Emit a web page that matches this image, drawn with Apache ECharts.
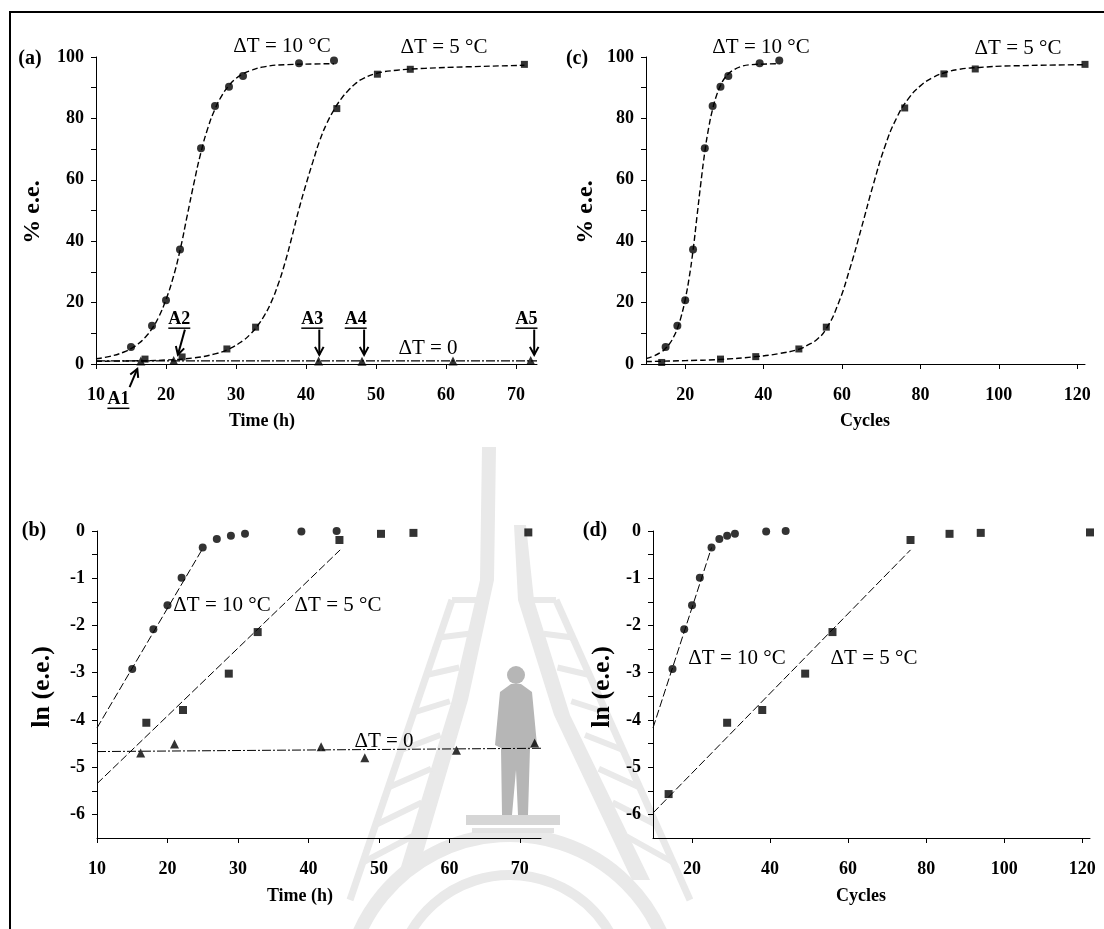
<!DOCTYPE html>
<html><head><meta charset="utf-8">
<script src="https://cdn.jsdelivr.net/npm/echarts@6/dist/echarts.min.js"></script>
<style>html,body{margin:0;padding:0;background:#fff}#c{width:1104px;height:929px}</style>
</head><body><div id="c"></div>
<script>
// ---------- tick labels ----------
const timeTicks = [10, 20, 30, 40, 50, 60, 70];
const cycleTicks = [20, 40, 60, 80, 100, 120];
const eeTicks = [0, 10, 20, 30, 40, 50, 60, 70, 80, 90, 100];
const eeLabels = [0, 20, 40, 60, 80, 100];
const lnTicks = [0, -0.5, -1, -1.5, -2, -2.5, -3, -3.5, -4, -4.5, -5, -5.5, -6];
const lnLabels = [0, -1, -2, -3, -4, -5, -6];

// ---------- (a) % e.e. vs time ----------
const a10Time = [15, 18, 20, 22, 25, 27, 29, 31, 39, 44];
const a10EE   = [5.5, 12.5, 20.8, 37.3, 70.3, 84.0, 90.3, 93.8, 98.0, 98.9];
const a5Time  = [17, 22.3, 28.7, 32.8, 44.4, 50.2, 54.9, 71.2];
const a5EE    = [1.6, 2.3, 4.9, 12.0, 83.2, 94.4, 96.0, 97.6];
const a0Time  = [16.4, 21.1, 41.8, 48.0, 61.0, 72.1];
const a0EE    = [1.0, 1.1, 1.0, 0.9, 1.0, 1.1];
// fitted curves
const a10FitT = [10, 12, 14, 15, 16, 17, 18, 19, 20, 21, 22, 23, 24, 25, 26, 27, 28, 29, 30, 31, 32, 34, 37, 44];
const a10FitV = [1.7, 2.5, 3.9, 5.0, 6.5, 8.6, 11.5, 15.5, 21, 28, 37, 48, 59, 69, 77, 83, 87.5, 90.7, 93, 94.5, 95.5, 96.8, 97.5, 97.8];
const a5FitT  = [10, 15, 20, 24, 27, 29, 31, 32, 33, 34, 35, 36, 37, 38, 39, 40, 41, 42, 43, 44, 45, 46, 47, 48, 50, 53, 57, 63, 71.2];
const a5FitV  = [0.9, 1.0, 1.3, 2.0, 3.3, 4.9, 7.6, 9.6, 12.2, 15.6, 20.0, 25.8, 33, 41.5, 50.5, 58.5, 66, 73, 78.5, 82.8, 86.3, 89, 91.2, 92.8, 94.6, 95.7, 96.3, 96.8, 97.3];
const a0FitT  = [10, 73];
const a0FitV  = [1.0, 1.0];

// ---------- (c) % e.e. vs cycles ----------
const c10Cyc = [15, 18, 20, 22, 25, 27, 29, 31, 39, 44];
const c10EE  = [5.5, 12.5, 20.8, 37.3, 70.3, 84.0, 90.3, 93.8, 98.0, 98.9];
const c5Cyc  = [14, 29, 38, 49, 56, 76, 86, 94, 122];
const c5EE   = [0.5, 1.6, 2.4, 4.9, 12.0, 83.4, 94.5, 96.1, 97.6];
const c10FitC = [10, 12, 14, 15, 16, 17, 18, 19, 20, 21, 22, 23, 24, 25, 26, 27, 28, 29, 30, 31, 32, 34, 37, 44];
const c10FitV = [1.8, 2.6, 4.0, 5.1, 6.6, 8.7, 11.6, 15.6, 21, 28, 37, 48, 59, 69, 77, 83, 87.5, 90.7, 93, 94.5, 95.5, 96.8, 97.5, 97.8];
const c5FitC  = [10, 20, 29, 38, 44, 49, 51, 53.6, 56, 59, 62, 65, 68, 71, 74, 77, 80, 83, 86, 90, 95, 103, 122];
const c5FitV  = [0.8, 1.1, 1.5, 2.4, 3.4, 4.8, 6.0, 8.0, 11.5, 19.5, 31, 44.5, 58.5, 71, 80.3, 86.5, 90.6, 93.2, 94.8, 96.0, 96.6, 97.1, 97.5];

// ---------- (b) ln(e.e.) vs time ----------
const b10Time = [15, 18, 20, 22, 25, 27, 29, 31, 39, 44];
const b10Ln   = [-2.92, -2.08, -1.57, -0.99, -0.35, -0.17, -0.10, -0.06, -0.01, 0.0];
const b5Time  = [17, 22.2, 28.7, 32.8, 44.4, 50.3, 54.9, 71.2];
const b5Ln    = [-4.06, -3.79, -3.02, -2.14, -0.19, -0.06, -0.04, -0.03];
const b0Time  = [16.2, 21.0, 41.8, 48.0, 61.0, 72.1];
const b0Ln    = [-4.70, -4.51, -4.57, -4.80, -4.64, -4.49];
const b10FitT = [10, 25];   const b10FitL = [-4.17, -0.37];
const b5FitT  = [10, 44.5]; const b5FitL  = [-5.35, -0.40];
const b0FitT  = [10, 73];   const b0FitL  = [-4.67, -4.60];

// ---------- (d) ln(e.e.) vs cycles ----------
const d10Cyc = [15, 18, 20, 22, 25, 27, 29, 31, 39, 44];
const d10Ln  = [-2.92, -2.08, -1.57, -0.99, -0.35, -0.17, -0.10, -0.06, -0.01, 0.0];
const d5Cyc  = [14, 29, 38, 49, 56, 76, 86, 94, 122];
const d5Ln   = [-5.57, -4.06, -3.79, -3.02, -2.14, -0.19, -0.06, -0.04, -0.03];
const d10FitC = [10, 25]; const d10FitL = [-4.17, -0.35];
const d5FitC  = [10, 76]; const d5FitL  = [-5.97, -0.40];

// ---------- annotations (a) ----------
const arrowLabels = ['A1', 'A2', 'A3', 'A4', 'A5'];
const arrowFrom = [[14.8, -7.5], [22.7, 11.2], [41.9, 11.2], [48.3, 11.2], [72.6, 11.2]];
const arrowTo   = [[15.9, -1.6], [21.7, 3.0], [41.9, 3.0], [48.3, 3.0], [72.6, 3.0]];
const arrowText = [[13.2, -11.5], [21.9, 14.6], [40.9, 14.6], [47.1, 14.6], [71.5, 14.6]];

const FONT = '"Liberation Serif", "Times New Roman", serif';
const zip = (a, b) => a.map((v, i) => [v, b[i]]);

function xAxis(gi, min, max, ticks) {
  return {
    type: 'value', gridIndex: gi, min: min, max: max,
    axisLine: { show: true, onZero: false, lineStyle: { color: '#000', width: 1 } },
    axisTick: { show: true, inside: false, length: 5, customValues: ticks, lineStyle: { color: '#000', width: 1 } },
    axisLabel: { customValues: ticks, margin: 22, color: '#000', fontFamily: FONT, fontWeight: 'bold', fontSize: 18 },
    splitLine: { show: false }, z: 8
  };
}
function yAxis(gi, min, max, ticks, labels) {
  return {
    type: 'value', gridIndex: gi, min: min, max: max,
    axisLine: { show: true, onZero: false, lineStyle: { color: '#000', width: 1 } },
    axisTick: { show: true, inside: false, length: 5, customValues: ticks, lineStyle: { color: '#000', width: 1 } },
    axisLabel: { customValues: labels, margin: 12, color: '#000', fontFamily: FONT, fontWeight: 'bold', fontSize: 18 },
    splitLine: { show: false }, z: 8
  };
}
function scatter(gi, sym, size, data) {
  return { type: 'scatter', xAxisIndex: gi, yAxisIndex: gi, symbol: sym, symbolSize: size, clip: false,
    itemStyle: { color: '#000' }, data: data, z: 6 };
}
function line(gi, data, dash, width, smooth) {
  return { type: 'line', xAxisIndex: gi, yAxisIndex: gi, data: data, showSymbol: false, symbol: 'none',
    smooth: smooth ? 0.5 : false, clip: false,
    lineStyle: { color: '#000', width: width, type: dash }, z: 5 };
}

const LONG = [6, 3];
const FITD = [8, 3];
const DASHDOT = [9, 2, 2, 2];

const option = {
  animation: false,
  backgroundColor: '#fff',
  grid: [
    { left: 96, top: 57, width: 441, height: 307 },
    { left: 646, top: 57, width: 439, height: 307 },
    { left: 97, top: 531, width: 444, height: 307 },
    { left: 653, top: 531, width: 437, height: 307 }
  ],
  xAxis: [
    xAxis(0, 10, 73, timeTicks),
    xAxis(1, 10, 122, cycleTicks),
    xAxis(2, 10, 73, timeTicks),
    xAxis(3, 10, 122, cycleTicks)
  ],
  yAxis: [
    yAxis(0, 0, 100, eeTicks, eeLabels),
    yAxis(1, 0, 100, eeTicks, eeLabels),
    yAxis(2, -6.5, 0, lnTicks, lnLabels),
    yAxis(3, -6.5, 0, lnTicks, lnLabels)
  ],
  series: [
    line(0, zip(a10FitT, a10FitV), LONG, 1.4, true),
    line(0, zip(a5FitT, a5FitV), LONG, 1.4, true),
    line(0, zip(a0FitT, a0FitV), DASHDOT, 1.2, false),
    scatter(0, 'circle', 8, zip(a10Time, a10EE)),
    scatter(0, 'rect', 7, zip(a5Time, a5EE)),
    scatter(0, 'triangle', 9, zip(a0Time, a0EE)),

    line(1, zip(c10FitC, c10FitV), LONG, 1.4, true),
    line(1, zip(c5FitC, c5FitV), LONG, 1.4, true),
    scatter(1, 'circle', 8, zip(c10Cyc, c10EE)),
    scatter(1, 'rect', 7, zip(c5Cyc, c5EE)),

    line(2, zip(b10FitT, b10FitL), FITD, 1, false),
    line(2, zip(b5FitT, b5FitL), FITD, 1, false),
    line(2, zip(b0FitT, b0FitL), DASHDOT, 1, false),
    scatter(2, 'circle', 8, zip(b10Time, b10Ln)),
    scatter(2, 'rect', 8, zip(b5Time, b5Ln)),
    scatter(2, 'triangle', 9, zip(b0Time, b0Ln)),

    line(3, zip(d10FitC, d10FitL), FITD, 1, false),
    line(3, zip(d5FitC, d5FitL), FITD, 1, false),
    scatter(3, 'circle', 8, zip(d10Cyc, d10Ln)),
    scatter(3, 'rect', 8, zip(d5Cyc, d5Ln))
  ]
};

const chart = echarts.init(document.getElementById('c'));
chart.setOption(option);

function txt(s, x, y, opts) {
  opts = opts || {};
  return {
    type: 'text', x: x, y: y, rotation: opts.rot || 0, z: 10,
    style: { text: s, x: 0, y: 0, align: opts.align || 'center', verticalAlign: 'middle',
      font: (opts.bold ? 'bold ' : '') + (opts.size || 21) + 'px ' + FONT, fill: '#000' }
  };
}
const g = [];
// ---- faint background watermark (emblem) ----
const WM = '#e9e9e9', WM2 = '#b6b6b6';
const wm = (el) => { el.z = -5; el.silent = true; g.push(el); };
wm({ type: 'polygon', shape: { points: [[482, 447], [496, 447], [494, 580], [468, 700], [418, 870], [400, 870], [452, 700], [480, 580]] }, style: { fill: WM } });
wm({ type: 'polygon', shape: { points: [[514, 525], [526, 525], [534, 600], [570, 715], [650, 880], [632, 880], [554, 715], [518, 600]] }, style: { fill: WM } });
wm({ type: 'line', shape: { x1: 452, y1: 600, x2: 350, y2: 900 }, style: { stroke: WM, lineWidth: 7 } });
wm({ type: 'line', shape: { x1: 556, y1: 600, x2: 690, y2: 900 }, style: { stroke: WM, lineWidth: 7 } });
for (let k = 0; k < 8; k++) {
  const f = k / 8;
  wm({ type: 'line', shape: { x1: 452 - 102 * f, y1: 600 + 300 * f, x2: 478 - 75 * f, y2: 600 + 270 * f }, style: { stroke: WM, lineWidth: 6 } });
  wm({ type: 'line', shape: { x1: 556 + 134 * f, y1: 600 + 300 * f, x2: 530 + 110 * f, y2: 600 + 270 * f }, style: { stroke: WM, lineWidth: 6 } });
}
wm({ type: 'arc', shape: { cx: 510, cy: 1000, r: 165, startAngle: Math.PI * 1.1, endAngle: Math.PI * 1.9 }, style: { stroke: WM, lineWidth: 14, fill: null } });
wm({ type: 'arc', shape: { cx: 510, cy: 990, r: 115, startAngle: Math.PI * 1.15, endAngle: Math.PI * 1.85 }, style: { stroke: WM, lineWidth: 10, fill: null } });
// statue silhouette
wm({ type: 'circle', shape: { cx: 516, cy: 675, r: 9 }, style: { fill: WM2 } });
wm({ type: 'polygon', shape: { points: [[511, 684], [521, 684], [532, 692], [537, 745], [530, 748], [528, 815], [518, 815], [516, 770], [512, 815], [502, 815], [501, 748], [495, 745], [500, 692]] }, style: { fill: WM2 } });
wm({ type: 'rect', shape: { x: 466, y: 815, width: 94, height: 10 }, style: { fill: '#d6d6d6' } });
wm({ type: 'rect', shape: { x: 472, y: 828, width: 82, height: 5 }, style: { fill: '#e2e2e2' } });

// outer frame
g.push({ type: 'rect', shape: { x: 10, y: 12, width: 1200, height: 1000 }, style: { fill: 'none', stroke: '#000', lineWidth: 2 }, z: 1 });
// panel letters
g.push(txt('(a)', 30, 59, { bold: true, size: 20 }));
g.push(txt('(c)', 577, 59, { bold: true, size: 20 }));
g.push(txt('(b)', 34, 531, { bold: true, size: 20 }));
g.push(txt('(d)', 595, 531, { bold: true, size: 20 }));
// axis titles
g.push(txt('% e.e.', 33, 212, { bold: true, size: 24, rot: Math.PI / 2 }));
g.push(txt('% e.e.', 586, 212, { bold: true, size: 24, rot: Math.PI / 2 }));
g.push(txt('ln (e.e.)', 42, 687, { bold: true, size: 26, rot: Math.PI / 2 }));
g.push(txt('ln (e.e.)', 602, 687, { bold: true, size: 26, rot: Math.PI / 2 }));
g.push(txt('Time (h)', 262, 421, { bold: true, size: 18 }));
g.push(txt('Cycles', 865, 421, { bold: true, size: 18 }));
g.push(txt('Time (h)', 300, 896, { bold: true, size: 18 }));
g.push(txt('Cycles', 861, 896, { bold: true, size: 18 }));
// series labels
g.push(txt('\u0394T = 10 \u00B0C', 282, 46));
g.push(txt('\u0394T = 5 \u00B0C', 444, 47));
g.push(txt('\u0394T = 0', 428, 348));
g.push(txt('\u0394T = 10 \u00B0C', 761, 47));
g.push(txt('\u0394T = 5 \u00B0C', 1018, 48));
g.push(txt('\u0394T = 10 \u00B0C', 222, 605));
g.push(txt('\u0394T = 5 \u00B0C', 338, 605));
g.push(txt('\u0394T = 0', 384, 741));
g.push(txt('\u0394T = 10 \u00B0C', 737, 658));
g.push(txt('\u0394T = 5 \u00B0C', 874, 658));

// arrows with labels (panel a)
arrowLabels.forEach((lab, i) => {
  const p0 = chart.convertToPixel({ gridIndex: 0 }, arrowFrom[i]);
  const p1 = chart.convertToPixel({ gridIndex: 0 }, arrowTo[i]);
  const pt = chart.convertToPixel({ gridIndex: 0 }, arrowText[i]);
  const ang = Math.atan2(p1[1] - p0[1], p1[0] - p0[0]);
  const hl = 9, ha = 0.5;
  const h1 = [p1[0] - hl * Math.cos(ang - ha), p1[1] - hl * Math.sin(ang - ha)];
  const h2 = [p1[0] - hl * Math.cos(ang + ha), p1[1] - hl * Math.sin(ang + ha)];
  g.push({ type: 'polyline', shape: { points: [p0, p1] }, style: { stroke: '#000', lineWidth: 2, fill: null }, z: 10 });
  g.push({ type: 'polyline', shape: { points: [h1, p1, h2] }, style: { stroke: '#000', lineWidth: 2, fill: null }, z: 10 });
  g.push(txt(lab, pt[0], pt[1], { bold: true, size: 18 }));
  g.push({ type: 'line', shape: { x1: pt[0] - 11, y1: pt[1] + 9, x2: pt[0] + 11, y2: pt[1] + 9 }, style: { stroke: '#000', lineWidth: 1.5 }, z: 10 });
});

chart.setOption({ graphic: { elements: g } });
</script>
</body></html>
